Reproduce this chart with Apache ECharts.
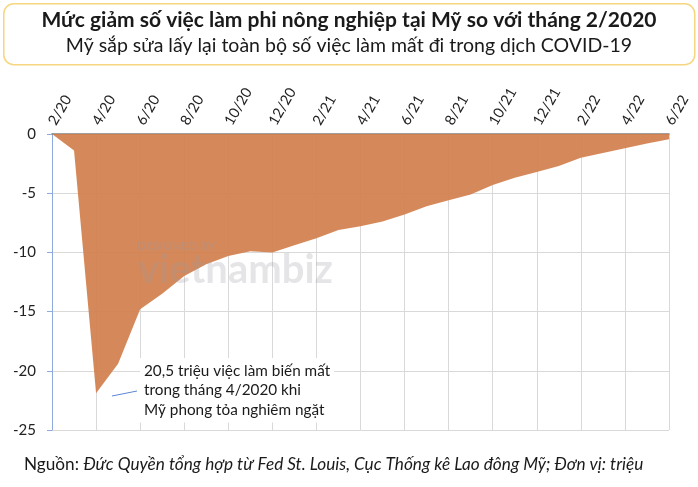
<!DOCTYPE html>
<html><head><meta charset="utf-8">
<script src="https://cdn.jsdelivr.net/npm/echarts@6/dist/echarts.min.js"></script>
<style>html,body{margin:0;padding:0;background:#fff}#c{width:698px;height:487px}</style>
</head><body><div id="c"></div>
<script>
const months = ['2/20','3/20','4/20','5/20','6/20','7/20','8/20','9/20','10/20','11/20','12/20',
  '1/21','2/21','3/21','4/21','5/21','6/21','7/21','8/21','9/21','10/21','11/21','12/21',
  '1/22','2/22','3/22','4/22','5/22','6/22'];
const jobChange = [0,-1.4,-21.9,-19.4,-14.8,-13.5,-12.0,-11.0,-10.3,-9.9,-10.0,
  -9.4,-8.8,-8.1,-7.8,-7.4,-6.8,-6.1,-5.6,-5.1,-4.3,-3.7,-3.2,
  -2.7,-2.0,-1.6,-1.2,-0.8,-0.45];
const yTicks = [0,-5,-10,-15,-20,-25];
const titleText = 'Mức giảm số việc làm phi nông nghiệp tại Mỹ so với tháng 2/2020';
const subtitleText = 'Mỹ sắp sửa lấy lại toàn bộ số việc làm mất đi trong dịch COVID-19';
const noteLines = ['20,5 triệu việc làm biến mất','trong tháng 4/2020 khi','Mỹ phong tỏa nghiêm ngặt'];
const sourceLabel = 'Nguồn: ';
const sourceText = 'Đức Quyền tổng hợp từ Fed St. Louis, Cục Thống kê Lao đông Mỹ; Đơn vị: triệu';

const chart = echarts.init(document.getElementById('c'));
const F = 'Lato, "Open Sans", sans-serif';
chart.setOption({
  animation: false,
  textStyle: {fontFamily: F},
  grid: {left: 52, right: 29, top: 134, bottom: 57},
  xAxis: {
    type: 'category', position: 'top', boundaryGap: false, data: months,
    axisLine: {lineStyle: {color: '#7f7f7f', width: 1.5}},
    axisTick: {show: false},
    axisLabel: {interval: 1, rotate: 60, color: '#222', fontSize: 14.5, fontFamily: F, margin: 10},
    splitLine: {show: true, interval: 1, lineStyle: {color: '#d9d9d9', width: 1}}
  },
  yAxis: {
    type: 'value', min: -25, max: 0, interval: 5,
    axisLine: {show: true, lineStyle: {color: '#8faadc', width: 1}},
    axisTick: {show: true, length: 5, lineStyle: {color: '#8faadc'}},
    axisLabel: {color: '#222', fontSize: 15, fontFamily: F, margin: 16,
      formatter: v => yTicks.includes(v) ? String(v) : ''},
    splitLine: {show: true, lineStyle: {color: '#d9d9d9', width: 1}}
  },
  series: [{
    type: 'line', data: jobChange, symbol: 'none',
    lineStyle: {width: 0},
    areaStyle: {color: 'rgba(210,128,78,0.93)', opacity: 1, origin: 'end'}
  }],
  graphic: [
    {type: 'rect', left: 3, top: 3, shape: {width: 691, height: 61, r: 10},
      style: {fill: '#fff', stroke: '#f6d77f', lineWidth: 1.5}, z: -1},
    {type: 'text', left: 'center', top: 10,
      style: {text: titleText, font: 'bold 21px ' + F, fill: '#1a1a1a'}},
    {type: 'text', left: 'center', top: 36,
      style: {text: subtitleText, font: '19.5px ' + F, fill: '#1a1a1a'}},
    {type: 'text', left: 137, top: 240, z: 100,
      style: {text: 'DESIGNED BY', font: 'bold 12px ' + F, fill: 'rgba(150,150,165,0.3)'}},
    {type: 'text', left: 138, top: 250, z: 100,
      style: {text: 'vietnambiz', font: 'bold 40px ' + F, fill: 'rgba(150,150,165,0.25)'}},
    {type: 'text', left: 140, top: 358, z: 100,
      style: {text: noteLines.join('\n'), font: '15.3px ' + F, lineHeight: 19.5, fill: '#1a1a1a',
        backgroundColor: '#fff', padding: [3, 4, 3, 4]}},
    {type: 'line', z: 100, shape: {x1: 112, y1: 396, x2: 137, y2: 391},
      style: {stroke: '#5b87d6', lineWidth: 1}},
    {type: 'text', left: 24, top: 456,
      style: {rich: {a: {font: '17.2px ' + F, fill: '#1a1a1a'}, b: {font: 'italic 17.2px ' + F, fill: '#1a1a1a'}},
        text: '{a|' + sourceLabel + '}{b|' + sourceText + '}'}}
  ]
});
</script></body></html>
